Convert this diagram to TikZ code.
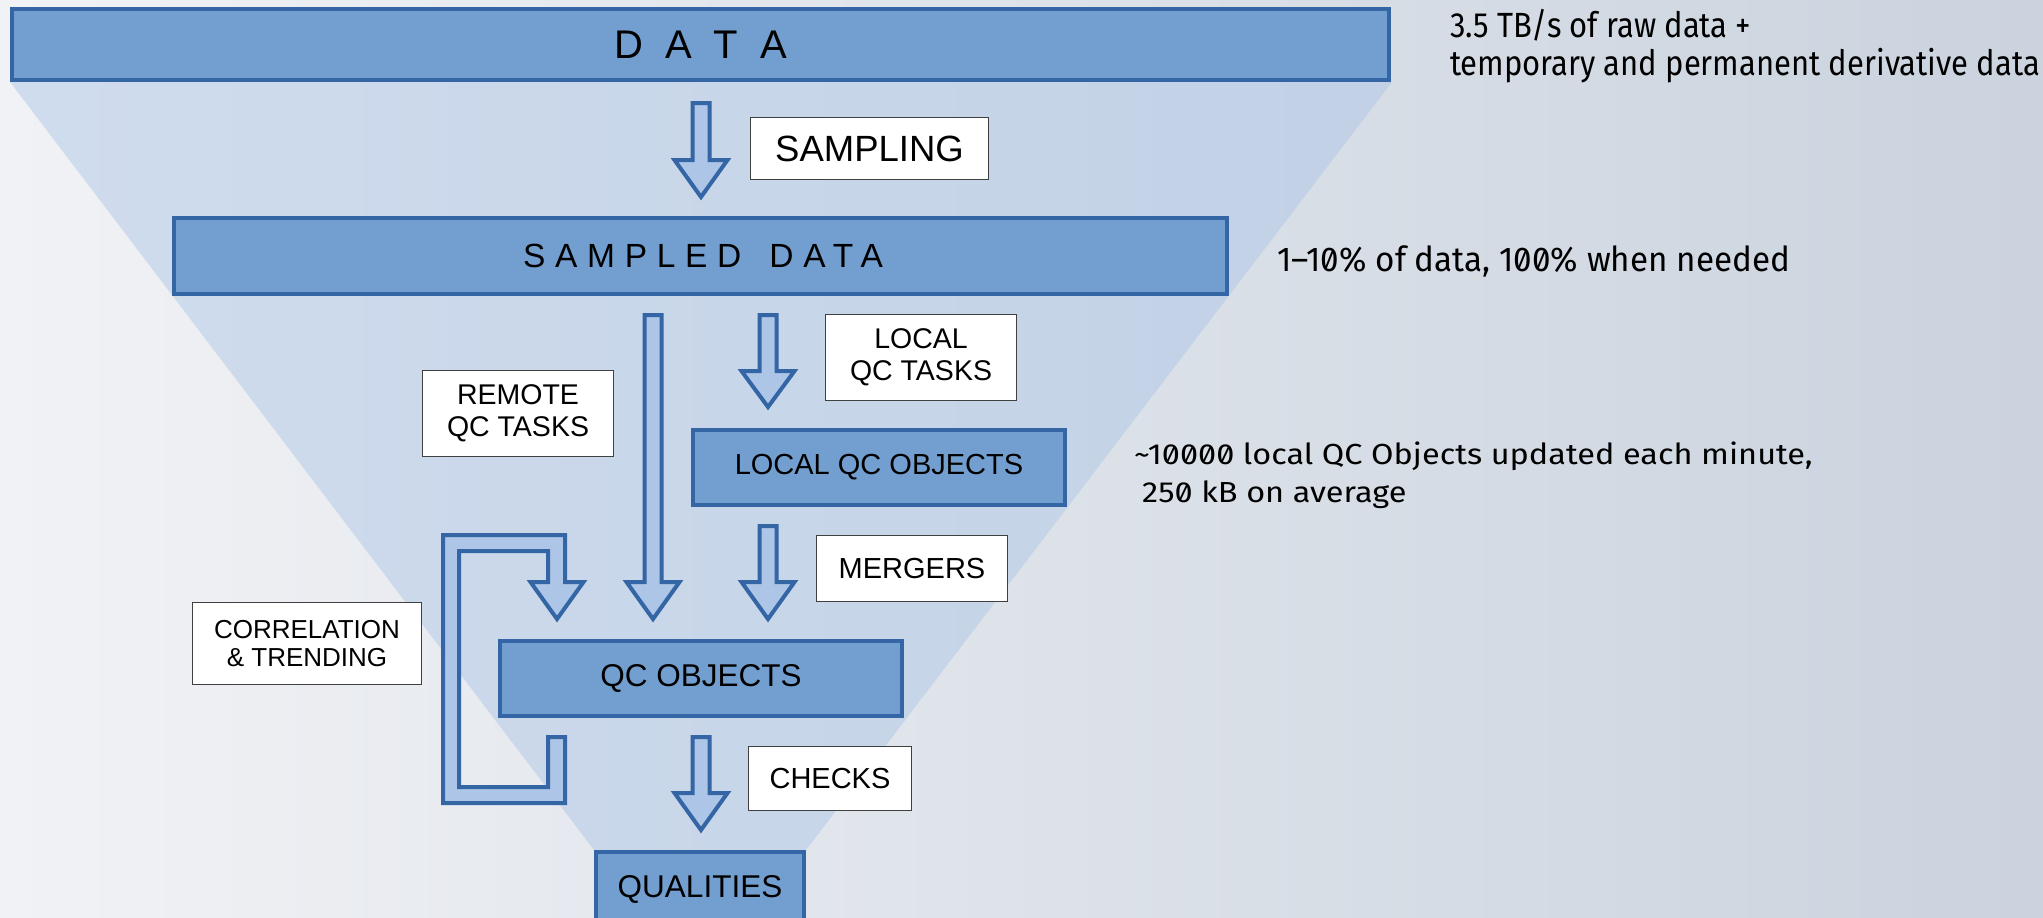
\documentclass[tikz,border=0pt]{standalone}
\usepackage{fontspec}
\setmainfont{Liberation Sans}
\newfontfamily\annotA[FakeStretch=0.885,Numbers=SlashedZero]{Fira Sans}
\newfontfamily\annotB[FakeStretch=0.965,Numbers=SlashedZero]{Fira Sans}
\newfontfamily\annotC[FakeStretch=1.12,Numbers=SlashedZero]{Fira Sans}
\definecolor{boxfill}{HTML}{729FCF}
\definecolor{boxline}{HTML}{3465A4}
\definecolor{arrfill}{HTML}{ADC6E8}
\definecolor{bgL}{HTML}{F1F2F5}
\definecolor{bgR}{HTML}{CAD3DE}
\definecolor{funfill}{HTML}{A9C3E6}
\tikzset{
  bigbox/.style={draw=boxline, line width=4pt, fill=boxfill, inner sep=0pt, text=black},
  lblbox/.style={draw=black!75, line width=1.5pt, fill=white, inner sep=0pt, align=center, text=black},
  arrowshape/.style={draw=boxline, line width=4pt, fill=arrfill, line join=miter},
  annot/.style={anchor=base west, inner sep=0pt, text=black},
}
\newcommand\blockarrow[4]{% center x, top y, head start y, tip y
  \draw[arrowshape] ({#1-8.5},#2) -- ({#1+8.5},#2) -- ({#1+8.5},#3) -- ({#1+26.5},#3)
    -- (#1,#4) -- ({#1-26.5},#3) -- ({#1-8.5},#3) -- cycle;}
\begin{document}
\begin{tikzpicture}[x=1pt,y=-1pt]
\useasboundingbox (0,0) rectangle (2043,918);
\shade[left color=bgL, right color=bgR] (0,0) rectangle (2043,918);
\fill[funfill, opacity=0.45] (10,82) -- (1392,82) -- (806,850) -- (594,850) -- cycle;

% main boxes
\node[bigbox, minimum width=1377pt, minimum height=71pt, font=\fontsize{40}{44}\selectfont]
  (data) at (700.5,44.5) {D\hspace{22pt}A\hspace{22pt}T\hspace{22pt}A};
\node[bigbox, minimum width=1053pt, minimum height=76pt, font=\fontsize{33.5}{38}\selectfont\addfontfeature{LetterSpace=29}]
  (sampled) at (700.5,256) {\hspace{5pt}SAMPLED\hspace{9pt} DATA};
\node[bigbox, minimum width=372pt, minimum height=75pt, font=\fontsize{29}{33}\selectfont]
  (localobj) at (879,467.5) {LOCAL QC OBJECTS};
\node[bigbox, minimum width=402pt, minimum height=75pt, font=\fontsize{31.5}{35}\selectfont]
  (qcobj) at (701,678.5) {QC OBJECTS};
\node[bigbox, minimum width=208pt, minimum height=74pt, font=\fontsize{31.5}{35}\selectfont]
  (qualities) at (700,889) {QUALITIES};

% block arrows
\blockarrow{701}{103}{160}{197}
\blockarrow{653}{315}{582}{619}
\blockarrow{768}{315}{371}{407}
\blockarrow{768}{526}{582}{619}
\blockarrow{701}{737}{793}{830}
\draw[arrowshape] (548,737) -- (565,737) -- (565,803) -- (443,803) -- (443,535) -- (565,535)
  -- (565,582) -- (583.5,582) -- (557,619) -- (530.5,582) -- (548,582) -- (548,551)
  -- (459,551) -- (459,787) -- (548,787) -- cycle;

% labels
\node[lblbox, minimum width=238pt, minimum height=62pt, font=\fontsize{36.5}{40}\selectfont]
  (sampling) at (869.5,148.5) {SAMPLING};
\node[lblbox, minimum width=191pt, minimum height=86pt, font=\fontsize{28.5}{32}\selectfont]
  (localtasks) at (921,357.5) {LOCAL\\QC TASKS};
\node[lblbox, minimum width=191pt, minimum height=86pt, font=\fontsize{28.5}{32}\selectfont]
  (remote) at (518,413.5) {REMOTE\\QC TASKS};
\node[lblbox, minimum width=191pt, minimum height=66pt, font=\fontsize{29}{33}\selectfont]
  (mergers) at (912,568.5) {MERGERS};
\node[lblbox, minimum width=229pt, minimum height=82pt, font=\fontsize{26}{28}\selectfont]
  (correl) at (307,643.5) {CORRELATION\\\& TRENDING};
\node[lblbox, minimum width=163pt, minimum height=64pt, font=\fontsize{29}{33}\selectfont]
  (checks) at (830,778.5) {CHECKS};

% annotations
\node[annot, font=\annotA\fontsize{35}{40}\selectfont] (a1) at (1450,37) {3.5 TB/s of raw data +};
\node[annot, font=\annotA\fontsize{35}{40}\selectfont] (a2) at (1450,75) {temporary and permanent derivative data};
\node[annot, font=\annotB\fontsize{34.4}{40}\selectfont] (a3) at (1277,271) {1–10\% of data, 100\% when needed};
\node[annot, font=\annotC\fontsize{29}{34}\selectfont] (a4) at (1134,464) {\textasciitilde10000 local QC Objects updated each minute,};
\node[annot, font=\annotC\fontsize{29}{34}\selectfont] (a5) at (1142,502) {250 kB on average};
\end{tikzpicture}
\end{document}
